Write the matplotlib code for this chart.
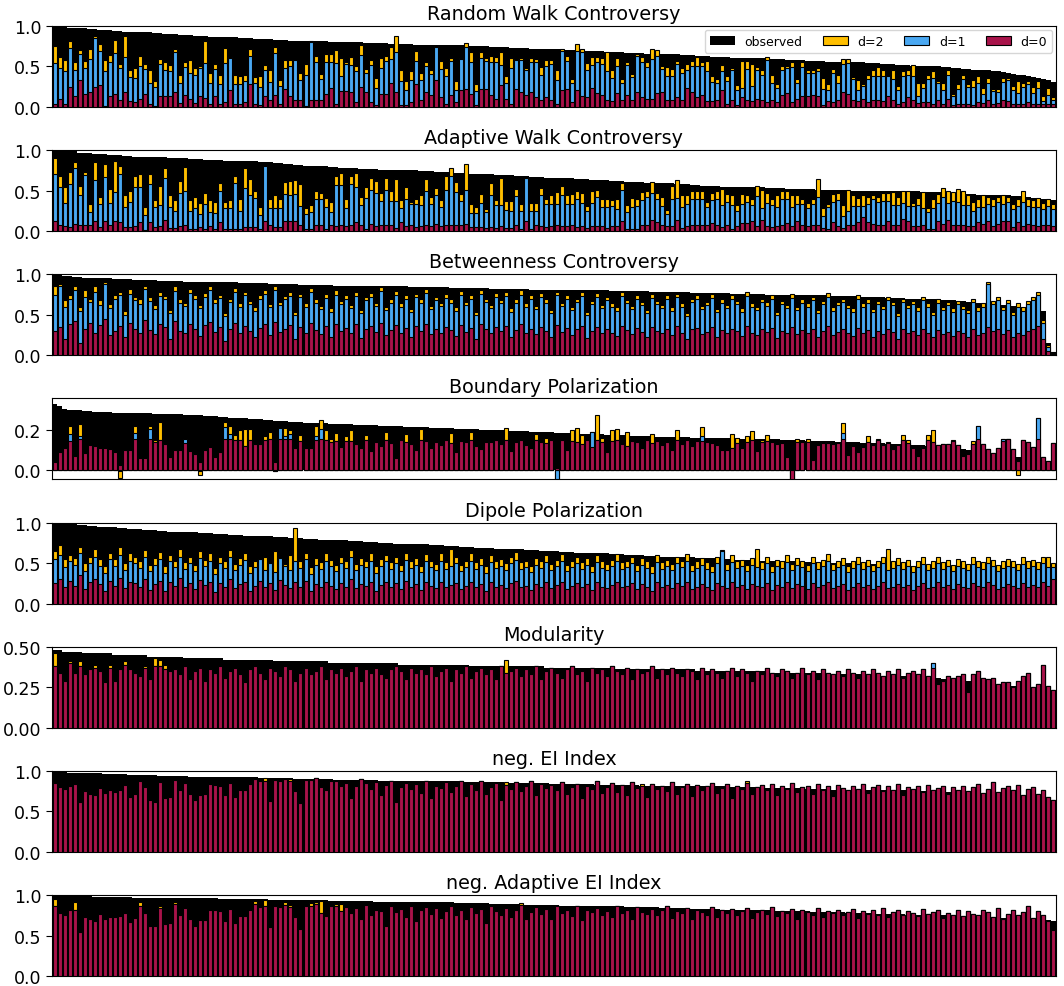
import numpy as np
import matplotlib
matplotlib.use('Agg')
import matplotlib.pyplot as plt

C_OBS = 'black'
C_D2 = '#FFBF00'
C_D1 = '#4AA8F2'
C_D0 = '#A8134A'

# ---------------- Random Walk Controversy (x100)
rw_obs = [100,99,99,98,98,97,97,96,96,95, 95,95,94,94,93,93,93,92,92,92,
          91,91,90,90,90,89,89,89,88,88, 88,87,87,87,86,86,86,85,85,85,
          84,84,84,84,83,83,83,82,82,82, 82,81,81,81,81,80,80,80,80,80,
          80,80,79,79,79,79,79,78,78,78, 78,78,77,77,77,77,77,76,76,76,
          76,76,75,75,75,75,75,74,74,74, 74,73,73,73,73,72,72,72,72,71,
          71,71,70,70,70,70,69,69,69,69, 68,68,68,68,67,67,67,67,66,66,
          66,66,65,65,65,64,64,64,63,63, 63,62,62,62,62,61,61,61,60,60,
          60,60,59,59,59,59,58,58,58,58, 57,57,57,57,56,56,56,56,55,55,
          55,55,54,54,54,53,53,53,52,52, 52,51,51,51,50,50,50,49,49,48,
          48,47,47,46,46,45,45,44,44,43, 42,41,40,39,38,37,36,35,33,31]
rw_d2 = [75,62,58,81,56,70,57,71,88,78, 58,64,83,53,88,45,48,63,53,45,
         32,59,55,52,72,40,55,58,48,51, 82,42,53,40,73,62,40,38,39,72,
         37,38,52,45,74,33,58,58,58,42, 53,81,63,41,65,65,70,60,
         56,62,50,77,47,58,36,60,63,74, 88,45,32,44,69,42,56,46,75,57,
         48,61,32,60,79,68,28,68,60,63, 62,68,38,61,59,60,48,60,59,49,
         58,58,45,72,63,35,78,72,54,62, 62,60,68,45,60,35,56,41,66,62,
         55,71,70,50,49,47,57,48,53,57, 62,
         56,57,38,35,52,38,48,27,57,57, 53,49,45,62,40,28,50,51,56,34,
         56,45,46,48,36,28,47,40,59,59, 37,33,28,40,46,49,45,38,45,26,
         44,45,52,29,29,40,44,32,30,45, 16,28,40,28,33,38,23,36,22,22,
         36,36,26,32,30,32,25,32,13,23, 12]
rw_d1 = [54,48,44,73,45,65,48,59,85,69, 44,55,67,48,62,37,36,50,47,30,
         24,53,45,44,68,30,49,42,39,48, 54,30,47,28,54,60,28,28,32,63,
         30,24,46,31,67,26,48,50,58,33, 40,80,55,34,55,56,54,38,
         53,52,44,64,42,52,23,48,57,59, 68,32,21,33,57,33,51,41,74,47,
         38,57,21,59,74,55,20,60,57,56, 56,52,30,48,58,58,46,55,55,40,
         51,53,33,69,57,30,69,68,45,52, 55,53,44,36,51,29,52,37,63,55,
         49,59,63,47,38,38,53,42,46,51, 51,
         51,44,31,29,44,32,45,21,23,47, 26,45,40,58,29,23,45,48,49,29,
         49,42,42,44,22,21,42,29,53,54, 35,21,26,35,38,38,38,38,35,21,
         38,40,38,13,23,35,36,29,21,40, 13,22,35,24,24,29,16,30,20,19,
         31,33,21,17,24,28,17,23,7,15, 8]
rw_d0 = [3,10,3,25,14,33,16,18,24,27, 1,14,16,8,18,7,6,10,16,4,
         1,14,14,13,18,5,15,10,5,13, 11,3,13,3,6,21,3,3,6,28,
         3,2,13,8,15,3,22,14,8,8, 1,8,8,8,16,23,4,20,
         20,19,6,24,18,6,2,16,16,30, 19,2,2,6,28,8,18,15,33,12,
         4,15,6,21,22,16,2,22,22,15, 10,27,10,3,22,19,15,19,12,8,
         12,8,4,21,22,6,21,13,12,23, 17,15,8,7,17,9,15,9,19,12,
         10,10,17,18,9,9,12,9,23,19, 12,
         15,7,7,8,21,4,8,2,12,9, 7,10,8,6,8,6,15,17,6,10,
         13,13,15,13,2,7,6,8,18,16, 9,7,10,6,9,8,7,13,8,4,
         6,12,8,5,6,6,4,8,4,10, 2,4,4,4,2,6,5,8,4,5,
         9,7,3,4,4,6,3,4,3,4, 4]

# ---------------- Adaptive Walk Controversy (x100)
aw_obs = [100,100,100,100,100,96,96,96,95,95, 95,94,94,94,93,93,92,92,92,92,
          91,91,91,90,90,90,90,89,89,89, 88,88,88,88,87,87,87,86,86,86,
          86,85,85,85,84,84,83,83,82,82, 81,81,80,80,80,79,79,78,78,78,
          78,77,77,77,77,76,76,76,76,75, 75,75,75,74,74,74,73,73,73,72,
          72,72,71,71,71,70,70,70,69,69, 69,69,68,68,68,67,67,67,66,66,
          66,65,65,65,64,64,64,63,63,63, 63,62,62,62,61,61,61,61,60,60,
          60,59,59,59,58,58,58,57,57,56, 56,56,56,55,55,55,55,54,54,54,
          54,54,53,53,53,53,52,52,52,52, 52,52,51,51,51,51,51,51,51,50,
          50,50,50,50,50,50,50,49,49,49, 49,49,49,48,48,48,48,47,47,47,
          46,46,46,46,45,45,45,45,44,44, 44,43,43,42,42,41,41,40,39,38]
aw_d2 = [90,68,54,73,85,56,73,34,85,42, 83,52,87,80,44,50,68,70,30,70,
         38,56,78,44,38,62,79,38,42,35, 47,38,36,60,36,38,68,39,78,64,
         49,30,80,39,44,39,61,62,63,58, 28,32,49,47,41,36,68,72,
         40,68,72,42,54,66,62,47,65,49, 64,38,54,36,40,44,64,42,53,38,
         68,78,61,46,83,34,30,46,27,59, 38,66,37,37,52,33,65,35,35,53,
         40,45,48,56,44,46,50,47,31,49, 51,40,39,38,40,60,32,41,39,48,
         50,61,47,42,26,56,63,44,45,50, 49,
         50,36,47,50,52,46,44,32,46,44, 39,56,51,47,40,44,50,49,44,44,
         39,35,39,64,28,34,46,47,32,51, 45,41,44,42,44,42,47,47,48,42,
         49,49,35,41,48,28,40,46,53,49, 48,52,50,44,36,39,44,42,40,42,
         44,42,33,40,49,39,38,41,35,39, 33]
aw_d1 = [70,54,35,58,78,45,69,23,63,34, 67,35,48,71,30,36,55,55,20,58,
         30,32,65,30,25,47,49,25,28,21, 33,24,22,49,28,28,60,25,53,44,
         41,20,81,28,28,28,46,44,46,31, 21,23,39,39,30,24,57,57,
         29,58,55,32,41,51,47,37,51,37, 37,28,40,34,34,32,50,34,45,30,
         51,68,48,37,51,22,22,35,23,44, 32,32,26,25,43,25,65,25,25,44,
         33,33,34,44,34,33,40,35,25,35, 42,30,30,31,27,51,24,30,31,38,
         42,47,40,31,21,40,41,30,33,40, 39,
         39,30,38,40,32,36,32,25,33,36, 32,43,28,35,32,30,39,39,30,34,
         33,29,33,42,19,30,36,38,19,25, 31,31,31,34,39,36,37,37,32,32,
         35,31,31,32,29,23,28,35,42,35, 37,36,32,32,25,30,30,34,31,36,
         33,36,27,31,36,31,30,30,27,31, 27]
aw_d0 = [12,7,6,5,9,8,8,8,13,5, 13,8,12,11,5,5,6,11,1,11,
         5,6,14,4,4,6,7,3,3,5, 3,6,3,11,3,3,3,3,5,5,
         5,3,13,8,5,5,13,12,13,8, 3,3,8,8,3,8,6,7,
         6,8,11,7,3,9,6,8,8,7, 4,11,6,8,5,6,8,6,9,6,
         8,8,8,8,9,5,5,5,4,5, 4,6,4,4,7,3,12,3,7,6,
         5,6,8,6,6,8,5,6,4,6, 6,6,4,6,6,13,2,3,3,8,
         8,14,11,8,6,6,14,4,6,8, 8,
         8,8,10,8,5,7,3,6,10,10, 12,6,14,6,5,6,8,10,6,12,
         8,6,8,7,4,3,11,6,4,7, 8,11,17,11,9,8,8,12,7,8,
         15,13,6,6,8,2,3,13,9,14, 8,8,7,6,6,11,9,13,6,9,
         13,13,5,11,6,9,7,6,8,7, 6]

# ---------------- Betweenness Controversy (x100)
bc_obs = [100,99,98,98,97,97,96,96,96,95, 95,95,94,94,94,94,93,93,93,93,
          93,92,92,92,92,92,91,91,91,91, 91,90,90,90,90,90,90,89,89,89,
          89,89,89,88,88,88,88,88,88,87, 87,87,87,87,87,87,86,86,86,86,
          86,86,86,86,85,85,85,85,85,85, 85,84,84,84,84,84,84,84,84,83,
          83,83,83,83,83,83,83,82,82,82, 82,82,82,82,82,81,81,81,81,81,
          81,81,81,80,80,80,80,80,80,80, 80,79,79,79,79,79,79,79,79,78,
          78,78,78,78,78,78,78,77,77,77, 77,77,77,77,77,76,76,76,76,76,
          76,76,75,75,75,75,75,75,75,74, 74,74,74,74,74,73,73,73,73,73,
          73,72,72,72,72,72,71,71,71,71, 70,70,70,70,69,69,69,68,68,68,
          67,67,66,66,65,65,64,64,63,62, 62,61,60,59,58,57,56,55,15,4]
bc_d2 = [85,88,68,75,86,60,80,70,85,68, 90,63,75,78,55,82,72,70,86,72,
         62,78,73,56,85,70,65,82,74,62, 77,85,70,75,52,70,83,64,78,67,
         59,75,80,63,86,66,73,78,54,76, 64,83,70,61,76,58,80,67,75,62,
         78,56,72,77,65,84,60,69,79,64, 75,57,76,69,82,61,72,65,76,70,
         59,79,66,75,54,81,70,62,77,68, 78,58,70,80,64,74,61,77,69,56,
         78,65,75,60,70,78,54,67,77,62, 72,64,59,78,68,61,75,66,56,76,
         67,62,74,59,76,64,52,70,75,61, 66,76,57,70,62,74,67,58,78,64,
         60,70,66,75,54,67,62,76,60,70, 64,72,56,67,77,59,66,70,62,58,
         75,64,70,57,67,61,72,66,52,70, 62,67,59,72,64,54,69,60,66,58,
         67,61,56,70,59,64,90,67,72,60, 68,54,64,59,67,72,78,44,12,4]
bc_d1 = [75,85,60,70,80,55,72,66,78,62, 88,58,70,74,50,76,68,63,82,67,
         57,73,69,52,79,65,61,77,70,58, 72,80,64,71,48,66,78,60,74,63,
         55,70,76,59,81,62,69,73,50,72, 60,78,65,57,71,54,75,63,70,58,
         73,52,68,72,61,79,56,65,74,60, 70,53,72,64,77,57,68,61,71,65,
         55,74,62,70,50,76,66,58,72,64, 73,54,65,75,60,69,57,72,64,52,
         74,61,70,56,66,73,50,63,72,58, 68,60,55,73,64,57,70,62,52,71,
         63,58,69,55,72,60,48,66,70,57, 62,71,53,65,58,69,63,54,73,60,
         56,66,61,70,50,63,58,71,56,65, 60,68,52,63,72,55,62,66,58,54,
         70,60,65,53,63,57,68,62,48,66, 58,63,55,68,60,50,65,56,62,54,
         63,57,52,66,55,60,88,63,68,56, 64,50,60,55,63,68,75,40,10,3]
bc_d0 = [30,35,20,38,42,15,33,40,28,37, 45,25,30,36,22,40,33,28,44,31,
         26,38,35,20,42,30,27,39,33,24, 37,41,29,35,18,32,40,27,36,30,
         22,34,38,25,41,29,33,37,20,35, 28,40,31,26,36,23,39,30,34,27,
         38,21,33,36,29,40,25,31,37,28, 34,22,36,30,39,26,33,28,35,31,
         24,37,29,34,20,38,32,27,35,30, 36,23,31,38,28,33,26,35,30,22,
         37,29,34,25,32,36,21,30,35,27, 33,28,24,36,31,26,34,29,22,35,
         30,27,33,25,36,28,20,32,34,26, 29,35,23,31,27,33,30,24,36,28,
         25,32,29,34,21,30,27,35,26,31, 28,33,22,30,36,25,29,32,27,24,
         34,28,31,23,30,26,33,29,20,32, 27,30,25,33,28,22,31,26,29,24,
         30,27,23,32,25,28,35,30,33,26, 31,22,28,25,30,33,36,20,5,2]

# ---------------- Boundary Polarization (x1000)
bp_obs = [330,320,305,300,298,296,294,292,290,288, 287,286,285,284,283,283,282,282,281,281,
          280,280,279,278,277,276,275,274,273,272, 270,268,266,264,262,260,258,257,256,255,
          253,252,250,248,246,244,242,240,238,237, 236,235,234,233,232,231,230,229,
          228,227,226,225,224,223,222,221,220,219,218,217,
          216,215,214,213,212,211,210,209,208,207, 206,205,204,203,202,201,200,199,198,197,
          196,195,194,193,192,191,190,189,188,187, 186,185,184,183,182,181,180,179,178,177,
          176,175,174,173,172,171,170,169,168,167, 166,165,165,164,164,163,163,162,162,
          161,161,160,160,159,159,158,158,157,157,156,
          155,155,154,153,153,152,151,150,149,148, 147,146,146,145,144,143,142,141,140,139,
          138,137,136,135,134,133,132,131,130,129, 128,126,125,123,121,119,117,115,113,110,
          107,104,101,98,95,92,89,86,83,80, 76,72,68,64,60,55,50,40,30,20]
bp_d2 = [42,92,112,220,73,228,83,123,120,112, 108,103,90,-38,100,100,217,62,62,220,
         150,240,128,67,100,100,153,95,78,-25, 100,115,67,90,240,220,173,200,203,203,
         128,132,167,190,-5,207,207,200,108,173, 108,108,220,250,200,157,183,115,
         170,200,130,110,175,95,140,120,190,135, 60,148,180,130,100,205,145,110,140,125,
         150,185,90,145,140,190,120,105,140,140, 150,130,210,95,140,150,125,110,180,140,
         160,148,-45,150,100,200,210,175,150,190, 272,160,90,200,205,130,190,145,140,110,
         150,180,145,125,140,100,200,130,150,120, 145,
         212,140,137,123,100,100,178,162,112,167, 192,95,148,173,140,132,137,67,-47,153,
         140,153,53,123,137,137,128,133,232,75, 120,90,115,170,125,157,125,142,107,125,
         175,148,112,70,112,173,198,123,128,128, 150,125,70,78,145,220,128,103,87,112,
         153,157,107,-25,148,140,117,257,67,45, 137]
bp_d1 = [42,92,112,178,73,167,83,123,120,112, 108,103,90,-5,100,100,183,62,62,203,
         142,150,128,67,100,100,153,95,78,-5, 100,115,67,90,212,178,148,148,120,148,
         128,132,148,153,-5,207,167,178,108,145, 108,108,167,203,150,142,145,115,
         145,145,130,110,150,95,140,120,150,135, 60,148,140,130,100,150,145,110,140,125,
         150,135,90,145,140,150,120,105,140,140, 150,130,148,95,140,150,125,110,150,140,
         135,148,-45,150,100,145,140,130,150,190, 148,140,90,145,150,130,120,145,140,110,
         150,135,145,125,140,100,148,130,150,120, 145,
         170,140,137,123,100,100,108,133,112,140, 148,95,140,145,140,132,137,67,-47,140,
         140,142,53,123,137,137,128,133,183,75, 120,90,115,142,125,150,125,137,107,125,
         148,137,112,70,112,148,142,123,128,128, 145,125,70,78,132,220,128,103,87,112,
         153,157,107,45,148,140,117,257,67,45, 137]
bp_d0 = [42,92,112,145,73,153,83,123,120,112, 108,103,90,28,100,100,153,62,62,153,
         142,150,128,67,100,100,137,95,78,40, 100,115,67,90,157,153,148,148,120,148,
         128,132,148,153,40,153,153,153,108,145, 108,108,150,153,150,142,145,115,
         145,145,130,110,150,95,140,120,150,135, 60,148,140,130,100,150,145,110,140,125,
         150,135,90,145,140,150,120,105,140,140, 150,130,148,95,140,150,125,110,150,140,
         135,148,10,150,100,145,140,130,150,115, 148,140,90,145,150,130,120,145,140,110,
         150,135,145,125,140,100,148,130,150,120, 145,
         145,140,137,123,100,100,108,133,112,140, 148,95,140,145,140,132,137,67,-47,140,
         140,142,53,123,137,137,128,133,157,75, 120,90,115,142,125,150,125,137,107,125,
         148,137,112,70,112,148,142,123,128,128, 145,125,70,78,132,153,128,103,87,112,
         145,157,107,45,148,140,117,157,67,45, 137]

# ---------------- Dipole Polarization (x100)
dp_obs = [100,99,99,98,98,97,97,96,96,95, 95,94,94,93,93,92,92,92,91,91,
          91,90,90,89,89,89,88,88,88,87, 87,87,86,86,86,85,85,85,84,84,
          84,83,83,83,82,82,82,81,81,81, 80,80,80,79,79,79,78,78,78,77,
          77,77,76,76,76,75,75,75,74,74, 74,74,73,73,73,72,72,72,71,71,
          71,70,70,70,69,69,69,69,68,68, 68,67,67,67,66,66,66,65,65,65,
          65,64,64,64,63,63,63,62,62,62, 62,61,61,61,60,60,60,60,59,59,
          59,58,58,58,58,57,57,57,56,56, 56,56,55,55,55,54,54,54,54,53,
          53,53,53,52,52,52,52,52,51,51, 51,51,51,50,50,50,50,50,50,50,
          50,50,49,49,49,48,48,48,48,47, 47,47,46,46,46,45,45,45,44,44,
          44,43,43,43,42,42,41,41,40,40, 39,39,38,38,37,37,36,35,34,33]
dp_d2 = [65,72,55,60,56,70,50,58,68,55, 47,63,55,70,50,62,58,52,66,48,
         56,64,46,60,53,67,51,58,48,65, 54,62,44,58,52,66,49,56,63,46,
         53,50,58,47,65,55,49,60,93,52, 63,45,56,51,62,54,48,58,52,66,
         49,56,53,62,46,55,60,51,58,48, 63,52,56,47,61,53,49,62,51,68,
         58,48,53,62,51,56,46,60,52,55, 50,58,64,51,53,47,56,52,60,49,
         54,61,48,53,58,51,56,47,60,52, 49,54,61,51,53,58,48,56,52,46,
         60,51,54,49,58,53,61,48,52,56, 51,47,58,66,49,60,52,54,48,56,
         68,51,58,47,54,52,60,49,56,53, 48,58,51,54,61,49,53,56,47,52,
         57,51,54,48,53,58,67,52,56,51, 54,47,53,57,49,52,58,51,54,48,
         55,52,49,57,53,51,58,54,48,52, 55,53,49,57,52,54,51,58,57,50]
dp_d1 = [55,60,45,52,48,62,40,50,58,47, 38,55,46,60,42,53,50,44,57,40,
         48,55,38,52,45,58,43,50,40,56, 46,53,36,50,44,57,41,48,54,38,
         45,55,42,50,39,56,47,41,52,44, 55,37,48,43,53,46,40,50,44,57,
         41,48,45,53,38,47,52,43,50,40, 54,44,48,39,52,45,41,53,43,47,
         50,40,45,53,43,48,38,51,44,47, 42,50,54,43,45,39,48,44,51,41,
         46,52,40,45,50,43,48,39,51,44, 41,46,52,43,45,50,40,48,44,38,
         51,43,46,41,50,45,52,40,44,48, 43,39,50,65,41,51,44,46,40,48,
         45,43,50,39,46,44,51,41,48,45, 40,50,43,46,52,41,45,48,39,44,
         49,43,46,40,45,50,41,44,48,43, 46,39,45,49,41,44,50,43,46,40,
         47,44,41,49,45,43,50,46,40,44, 47,45,41,49,44,46,43,50,45,45]
dp_d0 = [25,30,20,28,22,35,18,26,30,24, 15,28,22,32,19,27,25,21,30,17,
         24,28,16,26,22,31,20,25,18,29, 23,27,14,25,21,30,19,24,27,16,
         22,28,20,25,17,29,23,19,26,21, 28,15,24,20,27,22,18,25,21,30,
         19,24,22,27,16,23,26,20,25,18, 28,21,24,17,26,22,19,27,20,23,
         25,18,22,27,20,24,16,26,21,23, 19,25,28,20,22,17,24,21,26,19,
         23,27,18,22,25,20,24,17,26,21, 19,23,27,20,22,25,18,24,21,16,
         26,20,23,19,25,22,27,18,21,24, 20,17,25,22,19,26,21,23,18,24,
         22,20,25,17,23,21,26,19,24,22, 18,25,20,23,27,19,22,24,17,21,
         25,20,23,18,22,26,19,21,24,20, 23,17,22,25,19,21,26,20,23,18,
         24,21,19,25,22,20,26,23,18,21, 24,22,19,25,21,23,20,26,22,30]

# ---------------- Modularity (x100)
mo_obs = [48,48,47,47,47,47,46,46,46,46, 46,46,45,45,45,45,45,45,45,44,
          44,44,44,44,44,44,43,43,43,43, 43,43,43,43,42,42,42,42,42,42,
          42,42,42,42,41,41,41,41,41,41, 41,41,41,41,41,40,40,40,40,40,
          40,40,40,40,40,40,40,40,40,39, 39,39,39,39,39,39,39,39,39,39,
          39,39,39,38,38,38,38,38,38,38, 38,38,38,38,38,38,38,38,37,37,
          37,37,37,37,37,37,37,37,37,37, 37,37,36,36,36,36,36,36,36,36,
          36,36,36,36,36,36,36,36,35,35, 35,35,35,35,35,35,35,35,35,35,
          35,35,34,34,34,34,34,34,34,34, 34,34,34,34,33,33,33,33,33,33,
          33,33,33,33,33,32,32,32,32,32, 32,31,31,31,31,31,31,30,30,30,
          30,30,29,29,29,28,28,28,27,27, 27,26,26,25,25,24,24,23,22,21]
mo_d2 = [46,34,29,41,34,41,33,36,39,35, 28,39,29,36,41,36,34,32,38,30,
         43,42,39,35,
         36,33,38,30,35,37,29,36,34,38, 31,35,37,33,28,36,38,34,30,37,
         35,32,38,36,29,34,37,33,35,38, 30,36,34,37,32,35,38,29,36,34,
         37,33,31,36,38,35,30,37,34,36, 33,38,32,35,37,29,36,34,38,31,
         35,37,33,36,30,38,42,35,37,32, 36,33,38,30,35,37,34,31,36,38,
         33,35,29,37,34,36,32,38,35,33, 37,30,36,34,35,38,31,36,33,37,
         34,32,36,35,30,37,33,36,34,31, 35,37,32,36,34,29,35,33,37,34,
         32,36,35,31,34,37,33,35,30,36, 34,33,35,32,36,34,31,35,33,36,
         34,32,35,33,36,31,34,35,33,36, 32,
         40,27,29,32,31,32,33,22,33,35, 31,30,31,27,28,28,25,29,32,34,
         25,27,39,26,23]
mo_d1 = [38,34,29,40,34,38,33,36,37,35, 28,37,29,36,39,36,34,32,37,30,
         38,38,36,35,
         36,33,38,30,35,37,29,36,34,38, 31,35,37,33,28,36,38,34,30,37,
         35,32,38,36,29,34,37,33,35,38, 30,36,34,37,32,35,38,29,36,34,
         37,33,31,36,38,35,30,37,34,36, 33,38,32,35,37,29,36,34,38,31,
         35,37,33,36,30,38,34,35,37,32, 36,33,38,30,35,37,34,31,36,38,
         33,35,29,37,34,36,32,38,35,33, 37,30,36,34,35,38,31,36,33,37,
         34,32,36,35,30,37,33,36,34,31, 35,37,32,36,34,29,35,33,37,34,
         32,36,35,31,34,37,33,35,30,36, 34,33,35,32,36,34,31,35,33,36,
         34,32,35,33,36,31,34,35,33,36, 32,
         40,27,29,32,31,32,33,22,33,35, 31,30,31,27,28,28,25,29,32,34,
         25,27,39,26,23]
mo_d0 = [38,34,29,40,34,38,33,36,37,35, 28,37,29,36,39,36,34,32,37,30,
         38,38,36,35,
         36,33,38,30,35,37,29,36,34,38, 31,35,37,33,28,36,38,34,30,37,
         35,32,38,36,29,34,37,33,35,38, 30,36,34,37,32,35,38,29,36,34,
         37,33,31,36,38,35,30,37,34,36, 33,38,32,35,37,29,36,34,38,31,
         35,37,33,36,30,38,34,35,37,32, 36,33,38,30,35,37,34,31,36,38,
         33,35,29,37,34,36,32,38,35,33, 37,30,36,34,35,38,31,36,33,37,
         34,32,36,35,30,37,33,36,34,31, 35,37,32,36,34,29,35,33,37,34,
         32,36,35,31,34,37,33,35,30,36, 34,33,35,32,36,34,31,35,33,36,
         34,32,35,33,36,31,34,35,33,36, 32,
         37,27,29,32,31,32,33,22,33,35, 31,30,31,27,28,28,25,29,32,34,
         25,27,39,26,23]

# ---------------- neg. EI Index (x100)
ei_obs = [100,99,99,98,98,98,97,97,97,97, 96,96,96,96,96,95,95,95,95,95,
          95,94,94,94,94,94,94,93,93,93, 93,93,93,93,92,92,92,92,92,92,
          92,91,91,91,91,91,91,91,90,90, 90,90,90,90,90,90,89,89,89,89,
          89,89,89,89,89,88,88,88,88,88, 88,88,88,87,87,87,87,87,87,87,
          87,86,86,86,86,86,86,86,86,86, 85,85,85,85,85,85,85,85,85,84,
          84,84,84,84,84,84,84,84,83,83, 83,83,83,83,83,83,83,82,82,82,
          82,82,82,82,82,82,81,81,81,81, 81,81,81,81,80,80,80,80,80,80,
          80,80,79,79,79,79,79,79,79,78, 78,78,78,78,78,77,77,77,77,77,
          77,77,77,77,77,76,76,76,76,76, 76,76,75,75,75,75,75,75,74,74,
          74,74,74,73,73,73,72,72,72,71, 71,70,70,69,69,68,67,66,65,64]
ei_d2 = [85,80,78,81,84,62,75,72,70,79, 73,76,74,77,83,68,72,88,80,64,
         62,86,66,68,89,76,85,72,64,70, 71,84,83,82,70,85,68,76,76,84,
         90,87,91,63,89,87,90,90,75,60, 89,89,91,80,76,88,88,82,85,67,
         82,90,85,78,86,70,83,88,62,80, 85,78,84,73,88,66,82,79,86,74,
         81,87,69,84,77,88,72,80,85,64, 86,78,86,75,81,88,70,84,79,83,
         76,86,72,80,84,67,82,78,87,73, 80,85,74,83,70,86,79,84,68,84,
         78,82,75,86,72,80,84,69,83,77, 81,85,73,79,84,66,82,78,88,72,
         80,83,76,84,70,81,78,85,74,80, 82,72,84,77,81,69,83,79,76,82,
         78,84,73,80,83,75,81,77,84,70, 80,78,82,74,83,76,79,81,72,80,
         77,82,75,80,84,73,78,86,74,79, 81,76,83,70,78,80,72,76,68,64]
ei_d1 = [85,80,78,81,84,62,75,72,70,79, 73,76,74,77,83,68,72,88,80,64,
         62,86,66,68,89,76,85,72,64,70, 71,84,83,82,70,85,68,76,76,84,
         90,87,88,63,89,87,90,87,75,60, 89,89,91,80,76,88,88,82,85,67,
         82,90,85,78,86,70,83,88,62,80, 85,78,84,73,88,66,82,79,86,74,
         81,87,69,84,77,88,72,80,85,64, 83,78,86,75,81,88,70,84,79,83,
         76,86,72,80,84,67,82,78,87,73, 80,85,74,83,70,86,79,81,68,84,
         78,82,75,86,72,80,84,69,83,77, 81,85,73,79,84,66,82,78,85,72,
         80,83,76,84,70,81,78,85,74,80, 82,72,84,77,81,69,83,79,76,82,
         78,84,73,80,83,75,81,77,84,70, 80,78,82,74,83,76,79,81,72,80,
         77,82,75,80,84,73,78,86,74,79, 81,76,83,70,78,80,72,76,68,64]
ei_d0 = [85,80,78,81,84,62,75,72,70,79, 73,76,74,77,83,68,72,88,80,64,
         62,86,66,68,89,76,85,72,64,70, 71,84,83,82,70,85,68,76,76,84,
         90,87,88,63,89,87,90,87,75,60, 89,89,91,80,76,88,88,82,85,67,
         82,90,85,78,86,70,83,88,62,80, 85,78,84,73,88,66,82,79,86,74,
         81,87,69,84,77,88,72,80,85,64, 83,78,86,75,81,88,70,84,79,83,
         76,86,72,80,84,67,82,78,87,73, 80,85,74,83,70,86,79,81,68,84,
         78,82,75,86,72,80,84,69,83,77, 81,85,73,79,84,66,82,78,85,72,
         80,83,76,84,70,81,78,85,74,80, 82,72,84,77,81,69,83,79,76,82,
         78,84,73,80,83,75,81,77,84,70, 80,78,82,74,83,76,79,81,72,80,
         77,82,75,80,84,73,78,86,74,79, 81,76,83,70,78,80,72,76,68,64]

# ---------------- neg. Adaptive EI Index (x100)
ae_obs = [100,100,99,99,99,99,99,99,98,98, 98,98,98,98,98,98,97,97,97,97,
          97,97,97,97,96,96,96,96,96,96, 96,96,96,95,95,95,95,95,95,95,
          95,95,95,94,94,94,94,94,94,94, 94,94,94,94,94,93,93,93,
          93,93,93,93,93,93,92,92,92,92, 92,92,92,92,91,91,91,91,91,91,
          91,91,90,90,90,90,90,90,90,89, 89,89,89,89,89,89,88,88,88,88,
          88,88,88,87,87,87,87,87,87,86, 86,86,86,86,86,86,85,85,85,85,
          85,85,85,84,84,84,84,84,84,83, 83,83,83,83,83,82,82,82,82,82,
          82,81,81,81,81,81,80,80,80,80, 80,80,80,79,79,79,79,79,79,79,
          78,78,78,78,78,78,77,77,77,77, 77,77,76,76,76,76,76,76,75,75,
          75,75,75,74,74,74,74,73,73,73, 73,72,72,72,71,71,71,70,70,69,
          69,68]
ae_d2 = [95,78,76,82,92,54,73,70,68,77, 70,73,73,74,78,67,72,92,78,62,
         62,87,64,66,92,75,84,70,62,69, 69,82,82,80,68,83,66,74,74,82,
         93,85,94,61,87,85,91,88,73,58, 87,90,91,93,74,86,89,89,
         85,78,84,70,88,76,82,80,62,86, 79,83,73,87,68,81,85,77,84,72,
         80,86,75,82,70,85,78,83,66,87, 80,76,84,73,82,90,71,79,85,77,
         83,70,86,78,81,74,87,69,82,79, 84,76,80,73,86,78,82,71,85,79,
         77,83,75,81,86,72,80,78,84,70, 82,79,76,85,73,81,78,83,75,80,
         84,72,79,82,77,85,74,80,78,83, 71,81,79,76,84,73,80,78,82,75,
         79,83,72,80,77,81,76,84,73,79, 82,75,80,78,74,83,77,79,81,72,
         78,76,82,74,80,77,75,81,79,73, 84,70,77,82,75,79,86,72,80,76,
         68,57]
ae_d1 = [86,78,76,82,82,54,73,70,68,77, 70,73,73,74,78,67,72,87,78,62,
         62,84,64,66,89,75,84,70,62,69, 69,82,82,80,68,83,66,74,74,82,
         89,85,86,61,87,85,88,85,73,58, 87,87,89,78,74,86,86,80,
         85,78,84,70,88,76,82,80,62,86, 79,83,73,87,68,81,85,77,84,72,
         80,86,75,82,70,85,78,83,66,87, 80,76,84,73,82,88,71,79,85,77,
         83,70,86,78,81,74,87,69,82,79, 84,76,80,73,86,78,82,71,85,79,
         77,83,75,81,86,72,80,78,84,70, 82,79,76,85,73,81,78,83,75,80,
         84,72,79,82,77,85,74,80,78,83, 71,81,79,76,84,73,80,78,82,75,
         79,83,72,80,77,81,76,84,73,79, 82,75,80,78,74,83,77,79,81,72,
         78,76,82,74,80,77,75,81,79,73, 84,70,77,82,75,79,86,72,80,76,
         68,57]
ae_d0 = [86,78,76,82,82,54,73,70,68,77, 70,73,73,74,78,67,72,87,78,62,
         62,84,64,66,89,75,84,70,62,69, 69,82,82,80,68,83,66,74,74,82,
         89,85,86,61,87,85,88,85,73,58, 87,87,89,78,74,86,86,80,
         85,78,84,70,88,76,82,80,62,86, 79,83,73,87,68,81,85,77,84,72,
         80,86,75,82,70,85,78,83,66,87, 80,76,84,73,82,88,71,79,85,77,
         83,70,86,78,81,74,87,69,82,79, 84,76,80,73,86,78,82,71,85,79,
         77,83,75,81,86,72,80,78,84,70, 82,79,76,85,73,81,78,83,75,80,
         84,72,79,82,77,85,74,80,78,83, 71,81,79,76,84,73,80,78,82,75,
         79,83,72,80,77,81,76,84,73,79, 82,75,80,78,74,83,77,79,81,72,
         78,76,82,74,80,77,75,81,79,73, 84,70,77,82,75,79,86,72,80,76,
         68,57]

panels = [
    ('Random Walk Controversy', rw_obs, rw_d2, rw_d1, rw_d0, 100, (0, 1.0), [0, 0.5, 1.0]),
    ('Adaptive Walk Controversy', aw_obs, aw_d2, aw_d1, aw_d0, 100, (0, 1.0), [0, 0.5, 1.0]),
    ('Betweenness Controversy', bc_obs, bc_d2, bc_d1, bc_d0, 100, (0, 1.0), [0, 0.5, 1.0]),
    ('Boundary Polarization', bp_obs, bp_d2, bp_d1, bp_d0, 1000, (-0.045, 0.355), [0.0, 0.2]),
    ('Dipole Polarization', dp_obs, dp_d2, dp_d1, dp_d0, 100, (0, 1.0), [0, 0.5, 1.0]),
    ('Modularity', mo_obs, mo_d2, mo_d1, mo_d0, 100, (0, 0.5), [0, 0.25, 0.5]),
    ('neg. EI Index', ei_obs, ei_d2, ei_d1, ei_d0, 100, (0, 1.0), [0, 0.5, 1.0]),
    ('neg. Adaptive EI Index', ae_obs, ae_d2, ae_d1, ae_d0, 100, (0, 1.0), [0, 0.5, 1.0]),
]

fig, axes = plt.subplots(8, 1, figsize=(10.64, 9.87), dpi=100)
fig.subplots_adjust(left=52/1064, right=1056/1064, top=1-27/987, bottom=1-977/987, hspace=0.535)

for ax, (title, obs, d2, d1, d0, sc, ylim, yt) in zip(axes, panels):
    n = len(obs)
    ax.bar(np.arange(n), np.array(obs)/sc, width=1.0, color=C_OBS, lw=0, label='observed', zorder=1)
    for vals, col, lab, z in [(d2, C_D2, 'd=2', 2), (d1, C_D1, 'd=1', 3), (d0, C_D0, 'd=0', 4)]:
        ax.bar(np.arange(len(vals)), np.array(vals)/sc, width=0.8, color=col,
               edgecolor='black', lw=0.8, label=lab, zorder=z)
    ax.set_xlim(-0.5, n - 0.5)
    ax.set_ylim(*ylim)
    ax.set_yticks(yt)
    ax.set_xticks([])
    ax.tick_params(axis='y', labelsize=12.5, length=4)
    ax.set_title(title, fontsize=13.8, pad=5)

axes[0].legend(loc='upper right', ncol=4, fontsize=9, borderaxespad=0.3, columnspacing=1.6)

fig.savefig('out.png', dpi=100)
